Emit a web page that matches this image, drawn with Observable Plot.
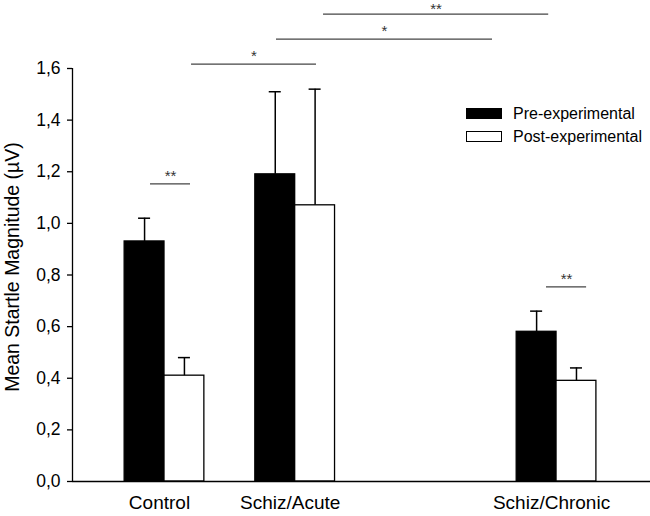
<!DOCTYPE html>
<html><head><meta charset="utf-8">
<script src="https://cdn.jsdelivr.net/npm/d3@7"></script>
<script src="https://cdn.jsdelivr.net/npm/@observablehq/plot@0.6"></script>
<style>
body{margin:0;background:#fff;font-family:"Liberation Sans",Arial,sans-serif;}
#wrap{position:relative;width:650px;height:516px;}
#legend{position:absolute;left:466px;top:102px;font-size:16px;color:#000;}
.row{display:flex;align-items:center;height:23px;}
.sw{width:36px;height:11px;box-sizing:border-box;margin-right:11px;}
</style></head><body>
<div id="wrap"><div id="legend"></div></div>
<script>
// ---- data ----
const categories = ["Control", "Schiz/Acute", "Schiz/Chronic"];
const groupSlots = [1, 2, 4];
const series = ["Pre-experimental", "Post-experimental"];
const preMean = [0.93, 1.19, 0.58];
const preUpper = [1.02, 1.51, 0.66];
const postMean = [0.41, 1.07, 0.39];
const postUpper = [0.48, 1.52, 0.44];
const yTicks = [0, 0.2, 0.4, 0.6, 0.8, 1.0, 1.2, 1.4, 1.6];
const yTitle = "Mean Startle Magnitude (µV)";
// significance annotations
const sigLabels = ["**", "*", "*", "**", "**"];
const sigFrom = [0.893, 1.207, 1.857, 2.217, 3.923];
const sigTo = [1.199, 2.163, 3.51, 3.94, 4.23];
const sigLevel = [1.153, 1.617, 1.714, 1.811, 0.754];

// ---- build tables ----
const xDomain = [0.296, 4.719];
const barW = 0.305;
const capHalf = 0.046;
const bars = [];
categories.forEach((c, i) => {
  const s = groupSlots[i];
  bars.push({cat: c, series: series[0], value: preMean[i], upper: preUpper[i], x1: s - barW, x2: s, cx: s - barW / 2});
  bars.push({cat: c, series: series[1], value: postMean[i], upper: postUpper[i], x1: s, x2: s + barW, cx: s + barW / 2});
});
const sig = sigLabels.map((l, i) => ({label: l, from: sigFrom[i], to: sigTo[i], level: sigLevel[i], mid: (sigFrom[i] + sigTo[i]) / 2}));
const topLevel = d3.max(sigLevel);
const fmt = d => d3.format(".1f")(d).replace(".", ",");

const chart = Plot.plot({
  width: 650,
  height: 516,
  marginLeft: 72,
  marginRight: 0,
  marginTop: 68,
  marginBottom: 35,
  style: {fontFamily: "'Liberation Sans', Arial, sans-serif", background: "white", overflow: "visible", color: "black"},
  x: {domain: xDomain, label: null},
  y: {domain: [0, 1.6], label: null},
  marks: [
    Plot.rectY(bars, {x1: "x1", x2: "x2", y1: 0, y2: "value", fill: d => d.series === series[0] ? "black" : "white", stroke: "black", strokeWidth: 1.3}),
    Plot.ruleX(bars, {x: "cx", y1: "value", y2: "upper", stroke: "black", strokeWidth: 1.5}),
    Plot.ruleY(bars, {y: "upper", x1: d => d.cx - capHalf, x2: d => d.cx + capHalf, stroke: "black", strokeWidth: 1.5}),
    Plot.ruleY(sig, {y: "level", x1: "from", x2: "to", stroke: "#444", strokeWidth: 1.2}),
    Plot.text(sig.filter(d => d.level < topLevel), {x: "mid", y: "level", text: "label", lineAnchor: "bottom", dy: -3, fontSize: 15, fill: "#333"}),
    Plot.text(sig.filter(d => d.level === topLevel), {x: "mid", y: "level", text: "label", lineAnchor: "bottom", dy: 0, fontSize: 15, fill: "#333"}),
    Plot.ruleY([0], {stroke: "black", strokeWidth: 1.3}),
    Plot.ruleX([xDomain[0]], {y1: 0, y2: 1.6, stroke: "black", strokeWidth: 1.3}),
    Plot.axisY(yTicks, {tickSize: 5, tickPadding: 7, tickFormat: fmt, fontSize: 17.5, label: null, stroke: "black", strokeWidth: 1.3}),
    Plot.axisX(groupSlots, {tickSize: 0, tickPadding: 14, tickFormat: d => categories[groupSlots.indexOf(d)], fontSize: 19, label: null, dx: -5}),
    Plot.text([yTitle], {frameAnchor: "left", textAnchor: "middle", rotate: -90, dx: -60, dy: -8, fontSize: 19.5, text: d => d})
  ]
});
document.getElementById("wrap").prepend(chart);

const legend = document.getElementById("legend");
series.forEach((s, i) => {
  const row = document.createElement("div");
  row.className = "row";
  const sw = document.createElement("div");
  sw.className = "sw";
  sw.style.background = i === 0 ? "black" : "white";
  sw.style.border = "1px solid black";
  const t = document.createElement("span");
  t.textContent = s;
  row.append(sw, t);
  legend.append(row);
});
</script>
</body></html>
